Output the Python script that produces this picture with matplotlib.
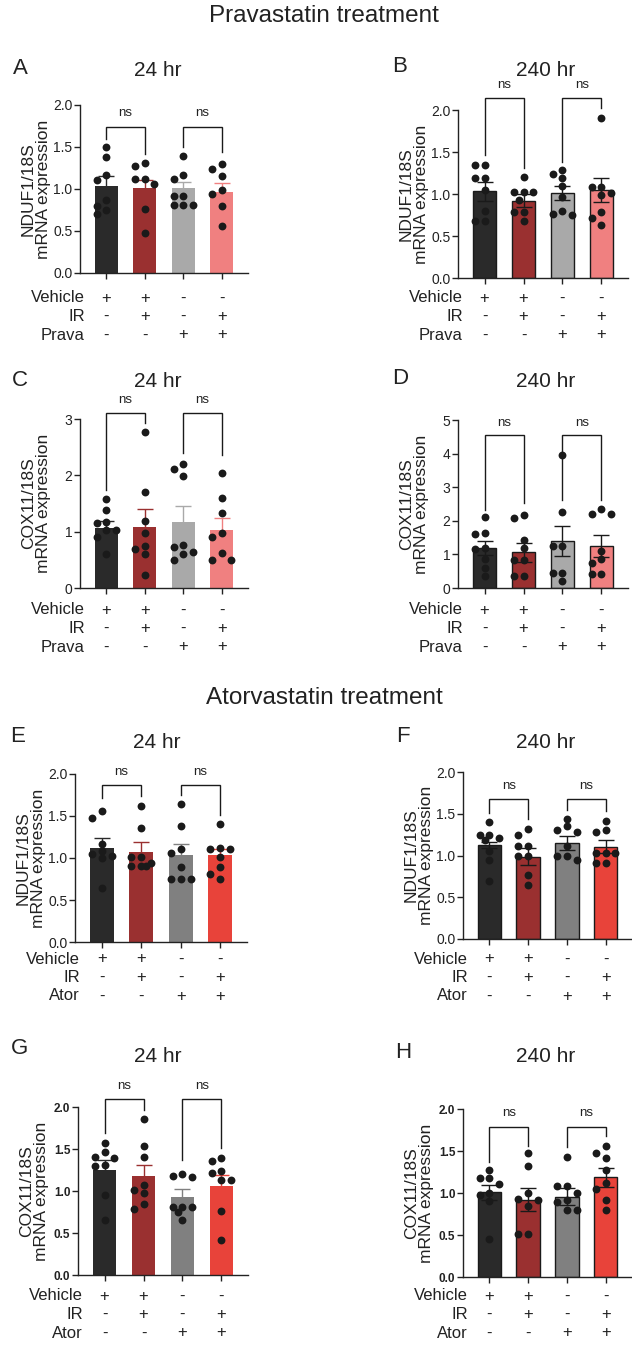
import numpy as np
import matplotlib
matplotlib.use("Agg")
import matplotlib.pyplot as plt

plt.rcParams['font.family'] = ['Liberation Sans', 'DejaVu Sans']
TXT = '#222222'

# ---------------- data ----------------
vehicle_signs = ['+', '+', '-', '-']
ir_signs = ['-', '+', '-', '+']
drug_signs = ['-', '-', '+', '+']

prava_colors = ['#2a2a2a', '#9a3030', '#a9a9a9', '#f08080']
ator_colors = ['#2a2a2a', '#9a3030', '#808080', '#e8433a']

# Panel A: NDUF1/18S, Prava 24 hr
A_mean = [1.034, 1.006, 1.006, 0.966]
A_sem = [0.119, 0.107, 0.079, 0.100]
A_points = [[1.50, 1.38, 1.165, 1.11, 0.87, 0.80, 0.75, 0.70],
            [1.312, 1.272, 1.125, 1.125, 1.058, 0.767, 0.477],
            [1.396, 1.165, 1.125, 0.918, 0.918, 0.807, 0.807, 0.807],
            [1.292, 1.237, 1.153, 0.986, 0.938, 0.799, 0.561]]
# Panel B: NDUF1/18S, Prava 240 hr
B_mean = [1.030, 0.919, 1.010, 1.050]
B_sem = [0.111, 0.079, 0.087, 0.140]
B_points = [[1.347, 1.347, 1.188, 1.188, 1.05, 0.80, 0.673, 0.673],
            [1.208, 1.018, 1.018, 1.018, 0.93, 0.784, 0.784, 0.673],
            [1.28, 1.24, 1.19, 1.09, 0.97, 0.80, 0.76, 0.75],
            [1.90, 1.089, 1.089, 1.01, 0.99, 0.784, 0.713, 0.626]]
# Panel C: COX11/18S, Prava 24 hr
C_mean = [1.058, 1.087, 1.165, 1.028]
C_sem = [0.136, 0.309, 0.297, 0.220]
C_points = [[1.58, 1.385, 1.176, 1.147, 1.03, 1.028, 0.897, 0.60],
            [2.763, 1.711, 1.188, 0.98, 0.749, 0.689, 0.60, 0.226],
            [2.204, 2.115, 1.996, 0.76, 0.719, 0.642, 0.60, 0.505],
            [2.038, 1.592, 1.337, 0.98, 0.897, 0.624, 0.493, 0.493]]
# Panel D: COX11/18S, Prava 240 hr
D_mean = [1.188, 1.059, 1.406, 1.257]
D_sem = [0.218, 0.278, 0.445, 0.327]
D_points = [[2.10, 1.65, 1.62, 1.19, 1.17, 0.85, 0.60, 0.35],
            [2.178, 2.079, 1.416, 1.188, 0.842, 0.842, 0.366, 0.366],
            [3.96, 2.257, 1.238, 1.238, 0.446, 0.446, 0.198],
            [2.347, 2.198, 2.198, 1.089, 0.861, 0.743, 0.416, 0.416]]
# Panel E: NDUF1/18S, Ator 24 hr
E_mean = [1.125, 1.074, 1.034, 1.034]
E_sem = [0.108, 0.111, 0.127, 0.075]
E_points = [[1.56, 1.48, 1.17, 1.08, 1.05, 1.02, 1.00, 0.64],
            [1.618, 1.352, 1.014, 1.014, 0.942, 0.907, 0.907, 0.907],
            [1.642, 1.384, 1.113, 1.062, 0.887, 0.755, 0.755, 0.755],
            [1.404, 1.125, 1.113, 1.113, 1.014, 0.895, 0.815, 0.755]]
# Panel F: NDUF1/18S, Ator 240 hr
F_mean = [1.125, 0.986, 1.153, 1.105]
F_sem = [0.040, 0.099, 0.083, 0.080]
F_points = [[1.40, 1.25, 1.24, 1.21, 1.19, 1.05, 0.95, 0.70],
            [1.32, 1.25, 1.11, 1.11, 0.99, 0.99, 0.77, 0.65],
            [1.44, 1.35, 1.31, 1.28, 1.11, 0.99, 0.99, 0.95],
            [1.415, 1.304, 1.284, 1.026, 1.026, 1.026, 0.907, 0.907]]
# Panel G: COX11/18S, Ator 24 hr
G_mean = [1.252, 1.173, 0.934, 1.062]
G_sem = [0.112, 0.139, 0.088, 0.131]
G_points = [[1.57, 1.47, 1.40, 1.39, 1.31, 1.30, 0.95, 0.65],
            [1.857, 1.531, 1.40, 1.074, 1.006, 0.982, 0.847, 0.787],
            [1.205, 1.173, 1.161, 0.815, 0.815, 0.815, 0.75, 0.656],
            [1.392, 1.36, 1.233, 1.213, 1.133, 1.133, 0.767, 0.417]]
# Panel H: COX11/18S, Ator 240 hr
H_mean = [1.006, 0.919, 0.958, 1.188]
H_sem = [0.091, 0.138, 0.099, 0.115]
H_points = [[1.27, 1.18, 1.18, 1.11, 1.00, 0.98, 0.90, 0.45],
            [1.48, 1.32, 1.00, 0.93, 0.92, 0.84, 0.515, 0.515],
            [1.426, 1.085, 1.085, 0.998, 0.92, 0.887, 0.80, 0.80],
            [1.56, 1.473, 1.414, 1.275, 1.117, 1.046, 0.911, 0.80]]

# significance brackets: (top, left leg end, right leg end), label height
A_br = [(1.742, 1.60, 1.42), (1.742, 1.50, 1.44)]; A_ns = 1.90
B_br = [(2.139, 1.465, 1.307), (2.139, 1.386, 2.02)]; B_ns = 2.30
C_br = [(3.107, 1.741, 2.93), (3.107, 2.394, 2.365)]; C_ns = 3.345
D_br = [(4.554, 2.327, 2.525), (4.554, 2.624, 2.624)]; D_ns = 4.92
E_br = [(1.869, 1.71, 1.738), (1.869, 1.75, 1.511)]; E_ns = 2.02
F_br = [(1.682, 1.511, 1.443), (1.682, 1.543, 1.535)]; F_ns = 1.83
G_br = [(2.095, 1.69, 1.968), (2.095, 1.372, 1.511)]; G_ns = 2.25
H_br = [(1.790, 1.374, 1.56), (1.790, 1.552, 1.679)]; H_ns = 1.95

# ---------------- figure ----------------
W, Hh = 632, 1345
fig = plt.figure(figsize=(W / 100, Hh / 100), dpi=100)

def px_axes(l, t, r, b):
    return fig.add_axes([l / W, 1 - b / Hh, (r - l) / W, (b - t) / Hh])

def swarm(ax, x0, ys, d=0.25, diam=7.5):
    placed, xs = [], []
    cands = [0, -1, 1, -0.5, 0.5]
    for y in ys:
        best, bestd = None, -1
        for k in cands:
            x = x0 + k * d
            p = ax.transData.transform((x, y))
            md = min([np.hypot(*(p - q)) for q in placed] + [1e9])
            if md >= diam:
                best = x
                break
            if md > bestd:
                best, bestd = x, md
        placed.append(ax.transData.transform((best, y)))
        xs.append(best)
    return xs

panels = [
    dict(letter='A', title='24 hr', box=(80, 105, 248, 273), ylab='NDUF1/18S', ymax=2.0, step=0.5,
         mean=A_mean, sem=A_sem, pts=A_points, br=A_br, ns=A_ns, cols=prava_colors, edge=False,
         drug='Prava', row0=25, lt=(20, 69), tt=(158, 70), bold=False),
    dict(letter='B', title='240 hr', box=(458, 110, 628, 278), ylab='NDUF1/18S', ymax=2.0, step=0.5,
         mean=B_mean, sem=B_sem, pts=B_points, br=B_br, ns=B_ns, cols=prava_colors, edge=True,
         drug='Prava', row0=20, lt=(400, 67), tt=(546, 70), bold=False),
    dict(letter='C', title='24 hr', box=(80, 419, 248, 588), ylab='COX11/18S', ymax=3, step=1,
         mean=C_mean, sem=C_sem, pts=C_points, br=C_br, ns=C_ns, cols=prava_colors, edge=False,
         drug='Prava', row0=22, lt=(20, 380), tt=(158, 381), bold=False),
    dict(letter='D', title='240 hr', box=(458, 420, 628, 588), ylab='COX11/18S', ymax=5, step=1,
         mean=D_mean, sem=D_sem, pts=D_points, br=D_br, ns=D_ns, cols=prava_colors, edge=True,
         drug='Prava', row0=22, lt=(400, 379), tt=(546, 381), bold=False),
    dict(letter='E', title='24 hr', box=(75, 774, 247, 942), ylab='NDUF1/18S', ymax=2.0, step=0.5,
         mean=E_mean, sem=E_sem, pts=E_points, br=E_br, ns=E_ns, cols=ator_colors, edge=False,
         drug='Ator', row0=17, lt=(18, 737), tt=(157, 743), bold=False),
    dict(letter='F', title='240 hr', box=(463, 772, 632, 939), ylab='NDUF1/18S', ymax=2.0, step=0.5,
         mean=F_mean, sem=F_sem, pts=F_points, br=F_br, ns=F_ns, cols=ator_colors, edge=True,
         drug='Ator', row0=20, lt=(403, 737), tt=(546, 743), bold=False),
    dict(letter='G', title='24 hr', box=(78, 1107, 248, 1275), ylab='COX11/18S', ymax=2.0, step=0.5,
         mean=G_mean, sem=G_sem, pts=G_points, br=G_br, ns=G_ns, cols=ator_colors, edge=False,
         drug='Ator', row0=21, lt=(19, 1048), tt=(158, 1056), bold=True),
    dict(letter='H', title='240 hr', box=(463, 1109, 632, 1277), ylab='COX11/18S', ymax=2.0, step=0.5,
         mean=H_mean, sem=H_sem, pts=H_points, br=H_br, ns=H_ns, cols=ator_colors, edge=True,
         drug='Ator', row0=19, lt=(403, 1052), tt=(546, 1056), bold=True),
]

LW = 1.0
for P in panels:
    ax = px_axes(*P['box'])
    ax.set_xlim(-0.68, 3.68)
    ax.set_ylim(0, P['ymax'])
    xs = np.arange(4)
    ax.bar(xs, P['mean'], width=0.6, color=P['cols'],
           edgecolor='#1a1a1a' if P['edge'] else 'none',
           linewidth=LW if P['edge'] else 0, zorder=2)
    for i in range(4):
        ecol = '#1a1a1a' if P['edge'] else P['cols'][i]
        ax.errorbar(xs[i], P['mean'][i], yerr=P['sem'][i], fmt='none', ecolor=ecol,
                    elinewidth=LW, capsize=6, capthick=LW, zorder=3)
    for i in range(4):
        px = swarm(ax, xs[i], P['pts'][i])
        ax.scatter(px, P['pts'][i], s=32, color='#1a1a1a', zorder=4, linewidths=0, clip_on=False)
    # brackets
    for j, (top, l1, l2) in enumerate(P['br']):
        x1, x2 = xs[2 * j], xs[2 * j + 1]
        ax.plot([x1, x1, x2, x2], [l1, top, top, l2], color='#1a1a1a', lw=LW,
                clip_on=False, zorder=5, solid_joinstyle='miter')
        ax.text((x1 + x2) / 2, P['ns'], 'ns', ha='center', va='center', fontsize=9.5,
                color=TXT, clip_on=False)
    # axes styling
    for s in ['top', 'right']:
        ax.spines[s].set_visible(False)
    for s in ['left', 'bottom']:
        ax.spines[s].set_linewidth(LW)
        ax.spines[s].set_color('#222222')
    ticks = np.arange(0, P['ymax'] + 1e-9, P['step'])
    ax.set_yticks(ticks)
    if P['step'] < 1:
        ax.set_yticklabels(['%.1f' % t for t in ticks])
    else:
        ax.set_yticklabels(['%d' % t for t in ticks])
    ax.set_xticks(xs)
    ax.set_xticklabels([])
    ax.tick_params(axis='both', direction='out', length=4, width=LW, color='#222222',
                   labelcolor=TXT, pad=1.5)
    if P['bold']:
        ax.tick_params(axis='y', labelsize=8.5)
        for lab in ax.get_yticklabels():
            lab.set_fontweight('bold')
    else:
        ax.tick_params(axis='y', labelsize=10)
    ax.set_ylabel(P['ylab'] + '\nmRNA expression', fontsize=12.5, color=TXT, linespacing=1.0)
    hpx = P['box'][2] - P['box'][0]
    ax.yaxis.set_label_coords(-29 / hpx, 0.5)
    # row labels under the axis
    rows = [('Vehicle', vehicle_signs), ('IR', ir_signs), (P['drug'], drug_signs)]
    for r, (name, signs) in enumerate(rows):
        off = (P['row0'] + 18.5 * r) * 0.72
        ax.annotate(name, xy=(0, 0), xycoords='axes fraction', xytext=(3.5, -off),
                    textcoords='offset points', ha='right', va='center', fontsize=12,
                    color=TXT, annotation_clip=False)
        for i, sgn in enumerate(signs):
            ax.annotate(sgn, xy=(xs[i], 0), xycoords=('data', 'axes fraction'),
                        xytext=(0, -off), textcoords='offset points', ha='center',
                        va='center', fontsize=12, color=TXT, annotation_clip=False)
    # letter and title
    fig.text(P['lt'][0] / W, 1 - P['lt'][1] / Hh, P['letter'], ha='center', va='center',
             fontsize=16, color=TXT)
    fig.text(P['tt'][0] / W, 1 - P['tt'][1] / Hh, P['title'], ha='center', va='center',
             fontsize=15, color=TXT)

fig.text(324 / W, 1 - 16 / Hh, 'Pravastatin treatment', ha='center', va='center',
         fontsize=17.5, color=TXT)
fig.text(324 / W, 1 - 698 / Hh, 'Atorvastatin treatment', ha='center', va='center',
         fontsize=17.5, color=TXT)

fig.savefig('out.png', dpi=100, facecolor='white')
